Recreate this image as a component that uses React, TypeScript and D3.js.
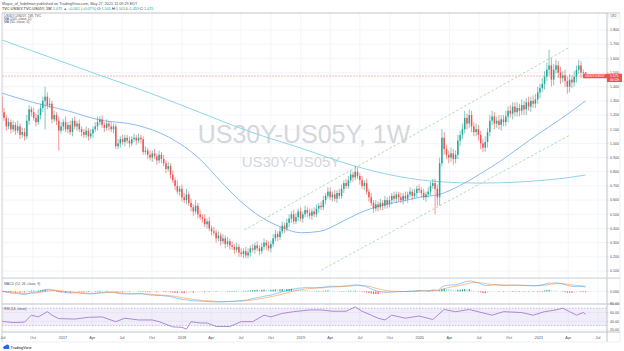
import React from 'react';
import * as d3 from 'd3';

const W = 624;
const H = 351;
const FONT = "'Liberation Sans', Arial, sans-serif";

// ---------- data ----------
const startWeek = '2016-06-27';
const firstOpen = 1.33;
const closes = [
  1.22, 1.18, 1.12, 1.15, 1.10, 1.13, 1.09, 1.12, 1.06, 1.08,
  1.05, 1.16, 1.24, 1.22, 1.18, 1.15, 1.20, 1.25, 1.30, 1.33,
  1.27, 1.28, 1.17, 1.20, 1.16, 1.09, 1.12, 1.15, 1.10, 1.13,
  1.08, 1.16, 1.12, 1.14, 1.10, 1.08, 1.06, 1.09, 1.05, 1.07,
  1.10, 1.12, 1.15, 1.17, 1.13, 1.11, 1.14, 1.12, 1.10, 1.12,
  0.98, 1.00, 1.03, 1.01, 1.04, 1.02, 1.00, 1.03, 1.04, 1.02,
  1.04, 1.03, 0.94, 0.95, 0.92, 0.90, 0.93, 0.91, 0.88, 0.92,
  0.89, 0.86, 0.82, 0.84, 0.78, 0.74, 0.70, 0.66, 0.68, 0.62,
  0.60, 0.64, 0.58, 0.55, 0.52, 0.56, 0.50, 0.48, 0.47, 0.43,
  0.45, 0.40, 0.38, 0.37, 0.33, 0.35, 0.31, 0.33, 0.29, 0.31,
  0.28, 0.27, 0.25, 0.27, 0.23, 0.22, 0.24, 0.21, 0.23, 0.26,
  0.25, 0.28, 0.26, 0.24, 0.27, 0.30, 0.28, 0.26, 0.29, 0.33,
  0.36, 0.34, 0.38, 0.42, 0.40, 0.44, 0.47, 0.50, 0.45, 0.48,
  0.52, 0.47, 0.50, 0.53, 0.51, 0.49, 0.52, 0.50, 0.54, 0.56,
  0.55, 0.60, 0.63, 0.66, 0.62, 0.64, 0.61, 0.65, 0.63, 0.68,
  0.72, 0.70, 0.74, 0.78, 0.76, 0.80, 0.77, 0.74, 0.70, 0.72,
  0.66, 0.62, 0.58, 0.54, 0.57, 0.55, 0.58, 0.56, 0.60, 0.57,
  0.60, 0.63, 0.61, 0.64, 0.62, 0.60, 0.63, 0.61, 0.64, 0.66,
  0.63, 0.65, 0.68, 0.67, 0.65, 0.62, 0.64, 0.66, 0.70, 0.72,
  0.68, 0.62, 0.86, 1.04, 0.96, 0.92, 0.90, 0.93, 0.89, 0.92,
  1.02, 1.06, 1.10, 1.18, 1.14, 1.20, 1.12, 1.08, 1.10, 1.06,
  1.00, 0.97, 1.01, 1.08, 1.16, 1.19, 1.14, 1.16, 1.13, 1.17,
  1.15, 1.19, 1.23, 1.21, 1.26, 1.22, 1.25, 1.23, 1.27, 1.24,
  1.29, 1.26, 1.30, 1.28, 1.31, 1.36, 1.39, 1.42, 1.47, 1.52,
  1.55, 1.45, 1.52, 1.55, 1.50, 1.46, 1.48, 1.44, 1.40, 1.45,
  1.43, 1.47, 1.52, 1.55, 1.50, 1.501, 1.475,
];
// wick lengths beyond the body, in hundredths
const wickUp = [
  2, 3, 2, 3, 2, 3, 2, 4, 2, 3,
  3, 4, 3, 2, 3, 3, 4, 3, 3, 7,
  3, 4, 2, 3, 2, 3, 3, 2, 4, 2,
  3, 2, 3, 2, 3, 2, 2, 3, 2, 3,
  2, 3, 4, 2, 3, 2, 3, 2, 3, 2,
  2, 3, 2, 3, 2, 2, 3, 2, 3, 2,
  3, 2, 2, 3, 2, 3, 2, 3, 2, 3,
  2, 3, 2, 3, 2, 3, 2, 4, 2, 3,
  3, 4, 2, 3, 2, 4, 2, 3, 2, 3,
  2, 3, 2, 3, 2, 3, 2, 3, 2, 3,
  2, 3, 2, 3, 2, 3, 2, 3, 3, 2,
  3, 2, 3, 2, 3, 3, 2, 3, 2, 3,
  3, 2, 3, 3, 2, 3, 3, 2, 3, 3,
  2, 3, 2, 3, 2, 3, 2, 3, 3, 2,
  3, 3, 2, 3, 3, 2, 3, 2, 3, 3,
  2, 3, 3, 3, 2, 4, 3, 2, 3, 2,
  3, 2, 3, 2, 3, 2, 3, 2, 3, 2,
  3, 2, 3, 2, 2, 3, 2, 3, 2, 3,
  2, 3, 2, 3, 2, 3, 2, 3, 3, 3,
  3, 3, 4, 6, 4, 3, 3, 4, 3, 3,
  4, 3, 4, 5, 3, 4, 3, 3, 4, 3,
  3, 3, 4, 3, 4, 4, 3, 3, 4, 3,
  3, 4, 3, 4, 3, 3, 4, 3, 4, 3,
  3, 4, 3, 4, 4, 4, 3, 4, 4, 5,
  11, 5, 4, 4, 3, 4, 3, 4, 3, 4,
  3, 4, 3, 4, 3, 2, 0.4,
];
const wickDn = [
  3, 2, 3, 2, 3, 2, 3, 2, 3, 2,
  3, 2, 3, 3, 2, 3, 2, 3, 3, 20,
  3, 2, 3, 2, 3, 14, 2, 3, 2, 3,
  2, 3, 2, 3, 2, 3, 2, 2, 3, 2,
  3, 2, 3, 2, 2, 3, 2, 3, 2, 3,
  2, 2, 3, 2, 3, 2, 3, 2, 2, 3,
  2, 3, 2, 2, 3, 2, 3, 2, 3, 2,
  3, 2, 3, 2, 3, 2, 3, 2, 3, 3,
  2, 3, 2, 3, 3, 2, 3, 2, 3, 2,
  3, 2, 3, 2, 3, 2, 3, 2, 3, 2,
  3, 2, 3, 2, 3, 2, 3, 2, 2, 3,
  2, 3, 2, 3, 2, 2, 3, 2, 3, 2,
  2, 3, 2, 2, 3, 2, 3, 3, 2, 2,
  3, 2, 3, 2, 3, 2, 3, 2, 2, 3,
  2, 2, 3, 2, 2, 3, 2, 3, 2, 2,
  3, 2, 2, 2, 3, 2, 2, 3, 2, 3,
  2, 3, 2, 3, 2, 3, 2, 3, 2, 3,
  2, 3, 2, 3, 3, 2, 3, 2, 3, 2,
  3, 2, 3, 2, 3, 2, 3, 2, 3, 2,
  18, 6, 6, 2, 4, 3, 4, 3, 4, 3,
  3, 4, 3, 3, 4, 3, 4, 3, 3, 4,
  4, 3, 3, 4, 3, 3, 4, 3, 3, 4,
  3, 3, 4, 3, 4, 3, 3, 4, 3, 4,
  4, 3, 4, 3, 3, 3, 4, 3, 4, 3,
  4, 5, 4, 3, 4, 4, 3, 4, 5, 4,
  4, 3, 4, 3, 4, 3, 1.6,
];

const ma200Dates = ['2016-06-27', '2016-12-01', '2017-05-01', '2017-10-01', '2018-03-01', '2018-08-01', '2019-01-01', '2019-06-01', '2019-11-01', '2020-03-01', '2020-07-01', '2020-11-01', '2021-03-01', '2021-05-24'];
const ma200Values = [1.73, 1.60, 1.475, 1.35, 1.215, 1.08, 0.967, 0.85, 0.765, 0.73, 0.72, 0.728, 0.75, 0.777];

const ma50Dates = ['2016-06-27', '2016-09-30', '2017-01-15', '2017-04-24', '2017-08-13', '2017-11-21', '2018-02-28', '2018-05-01', '2018-07-01', '2018-09-01', '2018-11-01', '2019-01-01', '2019-03-01', '2019-05-01', '2019-07-01', '2019-09-01', '2019-11-01', '2020-01-01', '2020-03-01', '2020-05-01', '2020-07-01', '2020-09-01', '2020-11-01', '2021-01-01', '2021-03-01', '2021-05-24'];
const ma50Values = [1.355, 1.29, 1.23, 1.165, 1.13, 1.045, 0.883, 0.73, 0.59, 0.48, 0.41, 0.37, 0.38, 0.44, 0.51, 0.56, 0.59, 0.62, 0.64, 0.70, 0.78, 0.87, 0.97, 1.07, 1.16, 1.30];

const rsiDates = ['2016-06-27', '2016-08-01', '2016-09-05', '2016-09-26', '2016-10-17', '2016-11-14', '2016-11-28', '2016-12-19', '2017-02-06', '2017-03-20', '2017-05-01', '2017-06-12', '2017-07-10', '2017-08-21', '2017-10-02', '2017-10-23', '2017-12-04', '2018-01-01', '2018-01-15', '2018-01-29', '2018-02-26', '2018-03-19', '2018-04-16', '2018-05-28', '2018-07-02', '2018-08-06', '2018-09-10', '2018-10-01', '2018-11-05', '2018-12-10', '2019-01-28', '2019-03-04', '2019-04-08', '2019-05-20', '2019-06-17', '2019-07-08', '2019-08-05', '2019-08-26', '2019-09-16', '2019-10-07', '2019-11-18', '2019-12-30', '2020-02-10', '2020-03-16', '2020-04-20', '2020-06-01', '2020-08-10', '2020-09-14', '2020-11-09', '2020-12-14', '2021-01-18', '2021-02-22', '2021-03-15', '2021-04-05', '2021-04-26', '2021-05-17', '2021-05-24'];
const rsiValues = [40, 37, 38, 54, 50, 62, 54, 46, 45, 49, 50, 39, 47, 43, 43, 39, 27, 26, 22, 39, 36, 36, 28, 28, 39, 39, 54, 50, 58, 62, 66, 66, 63, 63, 73, 63, 54, 47, 43, 54, 47, 52, 44, 67, 62, 67, 54, 62, 60, 54, 62, 66, 70, 62, 54, 60, 56];

const channelUpperDates = ['2018-07-12', '2021-04-06'];
const channelUpperValues = [0.389, 1.68];
const channelLowerDates = ['2019-03-05', '2021-04-06'];
const channelLowerValues = [0.107, 1.059];

const priceTicks = [0.1, 0.2, 0.3, 0.4, 0.5, 0.6, 0.7, 0.8, 0.9, 1.0, 1.1, 1.2, 1.3, 1.4, 1.5, 1.6, 1.7, 1.8];
const rsiTicks = [80, 60, 40, 20];
const timeTickDates = ['2016-07-01', '2016-10-01', '2017-01-01', '2017-04-01', '2017-07-01', '2017-10-01', '2018-01-01', '2018-04-01', '2018-07-01', '2018-10-01', '2019-01-01', '2019-04-01', '2019-07-01', '2019-10-01', '2020-01-01', '2020-04-01', '2020-07-01', '2020-10-01', '2021-01-01', '2021-04-01', '2021-07-01'];
const timeTickLabels = ['Jul', 'Oct', '2017', 'Apr', 'Jul', 'Oct', '2018', 'Apr', 'Jul', 'Oct', '2019', 'Apr', 'Jul', 'Oct', '2020', 'Apr', 'Jul', 'Oct', '2021', 'Apr', 'Jul'];
const lastPrice = 1.475;

// ---------- layout ----------
const PL = 2;
const PR = 607;
const TOP = 13;
const MAIN_B = 278;
const MACD_T = 279;
const MACD_B = 303;
const RSI_T = 305;
const RSI_B = 332;
const AX_B = 342;

const UP = '#26a69a';
const DN = '#ef5350';

const pd = (s: string) => new Date(s + 'T00:00:00Z');

function ema(arr: number[], n: number) {
  const k = 2 / (n + 1);
  const out: number[] = [];
  arr.forEach((v, i) => out.push(i === 0 ? v : v * k + out[i - 1] * (1 - k)));
  return out;
}

export default function App() {
  const start = pd(startWeek);
  const candles = closes.map((c, i) => {
    const o = i === 0 ? firstOpen : closes[i - 1];
    return {
      date: d3.utcDay.offset(start, 7 * i),
      o,
      c,
      h: Math.max(o, c) + wickUp[i] / 100,
      l: Math.min(o, c) - wickDn[i] / 100,
    };
  });

  const x = d3.scaleUtc().domain([pd('2017-01-01'), pd('2021-01-01')]).range([63, 539]);
  const y = d3.scaleLinear().domain([0.1, 1.8]).range([271, 30]);

  const e12 = ema(closes, 12);
  const e26 = ema(closes, 26);
  const macd = e12.map((v, i) => v - e26[i]);
  const signal = ema(macd, 9);
  const hist = macd.map((v, i) => v - signal[i]);
  const mExt = d3.extent([...macd, ...signal, ...hist]) as [number, number];
  const ym = d3.scaleLinear().domain(mExt).range([MACD_B - 1, MACD_T + 2]);

  const yr = d3.scaleLinear().domain([30, 70]).range([325.6, 308.2]);

  const priceLine = d3.line<[Date, number]>().x((d) => x(d[0])).y((d) => y(d[1])).curve(d3.curveMonotoneX);
  const ma200 = priceLine(ma200Dates.map((d, i) => [pd(d), ma200Values[i]]));
  const ma50 = priceLine(ma50Dates.map((d, i) => [pd(d), ma50Values[i]]));
  const straight = d3.line<[Date, number]>().x((d) => x(d[0])).y((d) => y(d[1]));
  const chU = straight(channelUpperDates.map((d, i) => [pd(d), channelUpperValues[i]]));
  const chL = straight(channelLowerDates.map((d, i) => [pd(d), channelLowerValues[i]]));

  const macdPath = d3.line<number>().x((_, i) => x(candles[i].date)).y((d) => ym(d))(macd);
  const sigPath = d3.line<number>().x((_, i) => x(candles[i].date)).y((d) => ym(d))(signal);
  const rsiPath = d3.line<number>().x((_, i) => x(pd(rsiDates[i]))).y((d) => yr(d))(rsiValues);

  const yLast = y(lastPrice);
  const tickX = timeTickDates.map((d) => x(pd(d)));

  return (
    <svg width={W} height={H} style={{ position: 'absolute', left: 0, top: 0, background: '#ffffff' }} fontFamily={FONT}>
      <defs>
        <clipPath id="mainClip"><rect x={PL} y={TOP} width={PR - PL} height={MAIN_B - TOP} /></clipPath>
        <clipPath id="macdClip"><rect x={PL} y={MACD_T} width={PR - PL} height={MACD_B - MACD_T} /></clipPath>
        <clipPath id="rsiClip"><rect x={PL} y={RSI_T} width={PR - PL} height={RSI_B - RSI_T} /></clipPath>
      </defs>
      <rect x={0} y={0} width={W} height={H} fill="#ffffff" />

      {/* header */}
      <text x={2} y={4.6} fontSize={3.8} fill="#50535e">Mayur_of_fxdefman published on TradingView.com, May 27, 2021 11:09:29 EDT</text>
      <text x={2} y={9.6} fontSize={3.8} fill="#131722">
        TVC:US30Y-TVC:US05Y, 1W <tspan fill={UP}>1.475 ▲ +0.001 (+0.07%)</tspan> O:<tspan fill={UP}>1.501</tspan> H:<tspan fill={UP}>1.505</tspan> L:<tspan fill={UP}>1.459</tspan> C:<tspan fill={UP}>1.475</tspan>
      </text>

      {/* grid */}
      <g stroke="#f0f3fa" strokeWidth={0.8}>
        {tickX.map((tx, i) => (
          <line key={'vg' + i} x1={tx} x2={tx} y1={TOP} y2={RSI_B} />
        ))}
        {priceTicks.map((p, i) => (
          <line key={'hg' + i} x1={PL} x2={PR} y1={y(p)} y2={y(p)} />
        ))}
        {rsiTicks.map((p, i) => (
          <line key={'rg' + i} x1={PL} x2={PR} y1={yr(p)} y2={yr(p)} />
        ))}
        <line x1={PL} x2={PR} y1={ym(0)} y2={ym(0)} />
      </g>

      {/* watermark */}
      <text x={304} y={143} fontSize={25} textAnchor="middle" fill="#d5d7dc">US30Y-US05Y, 1W</text>
      <text x={291} y={167} fontSize={15} textAnchor="middle" fill="#d5d7dc">US30Y-US05Y</text>

      {/* main pane */}
      <g clipPath="url(#mainClip)">
        <line x1={PL} x2={PR} y1={yLast} y2={yLast} stroke="#f3a2a0" strokeWidth={0.8} strokeDasharray="2,1" />
        <path d={ma200 || ''} fill="none" stroke="#8fd6ea" strokeWidth={1} />
        <path d={ma50 || ''} fill="none" stroke="#8cbcf2" strokeWidth={1} />
        <path d={chU || ''} fill="none" stroke="#a8d8a8" strokeWidth={0.9} strokeDasharray="2.5,2" />
        <path d={chL || ''} fill="none" stroke="#a8d8a8" strokeWidth={0.9} strokeDasharray="2.5,2" />
        {candles.map((d, i) => {
          const cx = x(d.date);
          const col = d.c >= d.o ? UP : DN;
          const top = y(Math.max(d.o, d.c));
          const bh = Math.max(0.6, Math.abs(y(d.o) - y(d.c)));
          return (
            <g key={'c' + i}>
              <line x1={cx} x2={cx} y1={y(d.h)} y2={y(d.l)} stroke={col} strokeWidth={0.6} />
              <rect x={cx - 0.75} y={top} width={1.5} height={bh} fill={col} />
            </g>
          );
        })}
      </g>

      {/* legend */}
      <g fontSize={3.4} fill="#50535e">
        <text x={4} y={16.6}>US30Y-US05Y, 1W, TVC</text>
        <text x={4} y={20}>MA (200, close, 0)</text>
        <text x={4} y={23.4}>MA (50, close, 0)</text>
      </g>

      {/* MACD pane */}
      <g clipPath="url(#macdClip)">
        {hist.map((h, i) => {
          const prev = i > 0 ? hist[i - 1] : 0;
          const col = h >= 0 ? (h >= prev ? '#26a69a' : '#b2dfdb') : (h < prev ? '#ff5252' : '#ffcdd2');
          const cx = x(candles[i].date);
          const y0 = ym(0);
          const y1 = ym(h);
          return <rect key={'h' + i} x={cx - 0.6} width={1.2} y={Math.min(y0, y1)} height={Math.max(0.5, Math.abs(y1 - y0))} fill={col} />;
        })}
        <path d={macdPath || ''} fill="none" stroke="#2196f3" strokeOpacity={0.6} strokeWidth={0.8} />
        <path d={sigPath || ''} fill="none" stroke="#ff6d00" strokeOpacity={0.55} strokeWidth={0.8} />
      </g>
      <text x={4} y={285} fontSize={3.4} fill="#50535e">MACD (12, 26, close, 9)</text>

      {/* RSI pane */}
      <rect x={PL} y={yr(70)} width={PR - PL} height={yr(30) - yr(70)} fill="#7e57c2" fillOpacity={0.1} />
      <line x1={PL} x2={PR} y1={yr(70)} y2={yr(70)} stroke="#9b8ab8" strokeWidth={0.5} strokeDasharray="1.5,1.5" />
      <line x1={PL} x2={PR} y1={yr(30)} y2={yr(30)} stroke="#9b8ab8" strokeWidth={0.5} strokeDasharray="1.5,1.5" />
      <g clipPath="url(#rsiClip)">
        <path d={rsiPath || ''} fill="none" stroke="#9a6fd0" strokeWidth={0.8} />
      </g>
      <text x={4} y={310} fontSize={3.4} fill="#50535e">RSI (14, close)</text>

      {/* borders */}
      <line x1={PL} x2={620} y1={TOP} y2={TOP} stroke="#b2b5be" strokeWidth={0.8} />
      <line x1={PL} x2={PL} y1={TOP} y2={AX_B} stroke="#c7c9cf" strokeWidth={0.8} />
      <line x1={PR} x2={PR} y1={TOP} y2={AX_B} stroke="#b2b5be" strokeWidth={0.8} />
      <line x1={620} x2={620} y1={TOP} y2={AX_B} stroke="#e0e3eb" strokeWidth={0.6} />
      <rect x={PL} y={MAIN_B - 0.5} width={618} height={1.2} fill="#d1d4dc" />
      <rect x={PL} y={MACD_B + 0.3} width={618} height={1.4} fill="#d1d4dc" />
      <line x1={PL} x2={620} y1={RSI_B} y2={RSI_B} stroke="#b2b5be" strokeWidth={0.8} />
      <line x1={PL} x2={620} y1={AX_B} y2={AX_B} stroke="#e0e3eb" strokeWidth={0.6} />

      {/* price axis */}
      <g fontSize={3.6} fill="#50535e">
        {priceTicks.map((p, i) => (
          <g key={'pt' + i}>
            <line x1={PR} x2={PR + 1.5} y1={y(p)} y2={y(p)} stroke="#b2b5be" strokeWidth={0.5} />
            <text x={610} y={y(p) + 1.3}>{p.toFixed(3)}</text>
          </g>
        ))}
        <line x1={PR} x2={PR + 1.5} y1={ym(0)} y2={ym(0)} stroke="#b2b5be" strokeWidth={0.5} />
        <text x={610} y={ym(0) + 1.3}>0.000</text>
        {rsiTicks.map((p, i) => (
          <g key={'rt' + i}>
            <line x1={PR} x2={PR + 1.5} y1={yr(p)} y2={yr(p)} stroke="#b2b5be" strokeWidth={0.5} />
            <text x={610} y={yr(p) + 1.3}>{p.toFixed(2)}</text>
          </g>
        ))}
      </g>
      <rect x={608.5} y={13.8} width={10} height={4.4} fill="#ffffff" stroke="#d1d4dc" strokeWidth={0.4} rx={0.6} />
      <text x={613.5} y={17} fontSize={2.8} textAnchor="middle" fill="#50535e">USD</text>

      {/* last price labels */}
      <rect x={583} y={yLast - 2.2} width={PR - 583} height={4.4} fill={DN} />
      <text x={595} y={yLast + 1.1} fontSize={3} textAnchor="middle" fill="#ffffff">US30Y-US05Y</text>
      <rect x={PR} y={yLast - 2.4} width={15} height={8.4} fill={DN} />
      <text x={610} y={yLast + 1.2} fontSize={3.4} fill="#ffffff">1.475</text>
      <text x={610} y={yLast + 5} fontSize={3} fill="#ffffff">4d 12h</text>

      {/* time axis */}
      <g fontSize={3.8} fill="#50535e" textAnchor="middle">
        {tickX.map((tx, i) => (
          <text key={'tl' + i} x={tx} y={339}>{timeTickLabels[i]}</text>
        ))}
      </g>

      {/* TradingView logo */}
      <g>
        <circle cx={5} cy={347.3} r={1.6} fill="#2962ff" />
        <circle cx={7.2} cy={346.6} r={2} fill="#2962ff" />
        <rect x={3.5} y={347.3} width={5.8} height={1.6} fill="#2962ff" />
        <text x={10.5} y={348.6} fontSize={3.8} fill="#131722">TradingView</text>
      </g>
    </svg>
  );
}
